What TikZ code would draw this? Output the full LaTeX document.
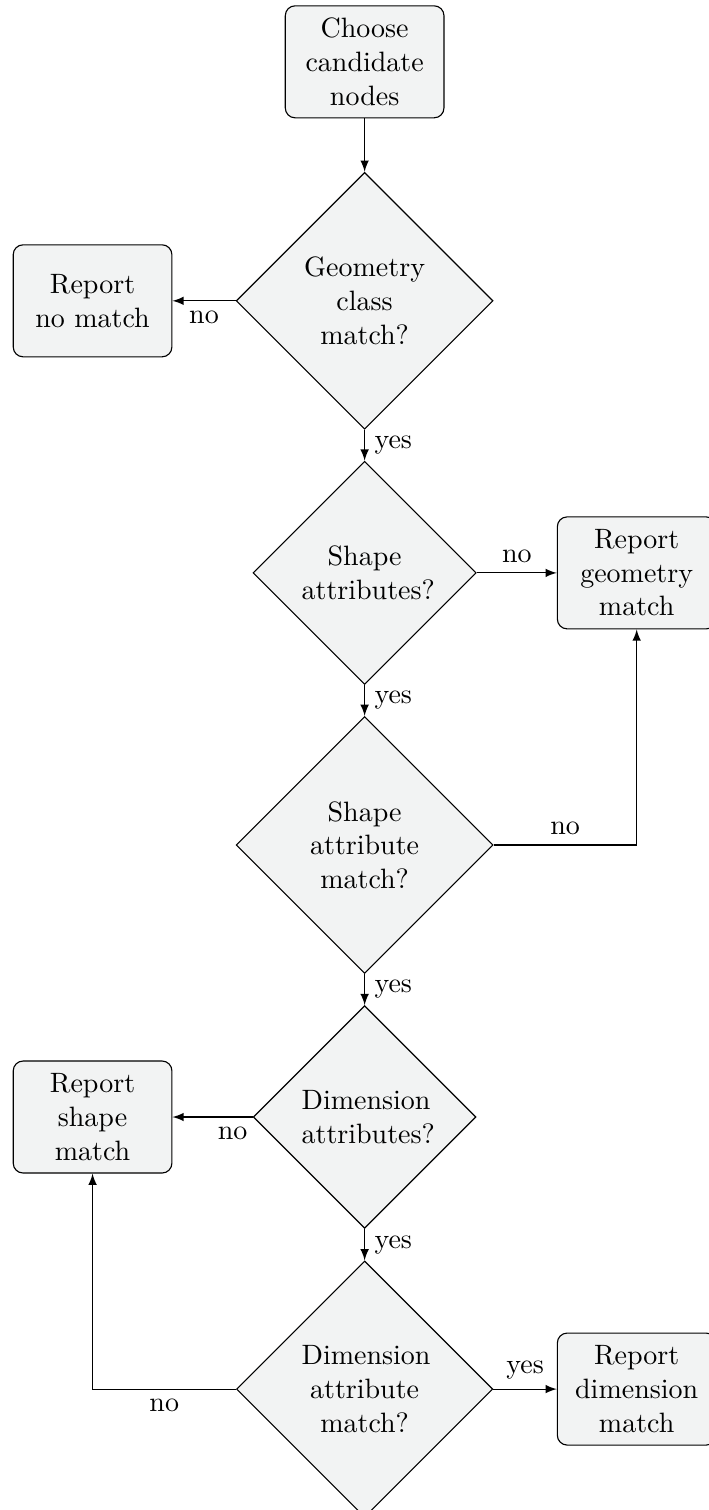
\documentclass[tikz,border=0pt]{standalone}
\usepackage{amsmath}
\usepackage{tikz}
\usetikzlibrary{shapes.geometric}

\definecolor{boxfill}{RGB}{242,243,243}

\begin{document}
\begin{tikzpicture}[
    block/.style={rectangle, draw, fill=boxfill, text width=5em, align=center, rounded corners=3.5pt, minimum height=4em},
    decision/.style={diamond, draw, fill=boxfill, text width=4.5em, align=center, inner sep=3.9pt},
    line/.style={draw, -latex}]
            \useasboundingbox (-4.577,0.776) rectangle (4.311,-18.178);
            \node (start) at (0,0) [block] {Choose\\ candidate\\ nodes};
            \node (geoclass) at (0,-3) [decision] {Geometry\\ class\\ match?};
            \node (nomatch) at (-3.415,-3) [block] {Report\\ no match};
            \node (shapeattr) at (0,-6.415) [decision] {Shape\\ \mbox{attributes?}};
            \node (geommatch) at (3.415,-6.415) [block] {Report\\ geometry\\ match};
            \node (shapematch?) at (0,-9.83) [decision] {Shape\\ attribute\\ match?};
            \node (dimattr) at (0,-13.245) [decision] {Dimension\\ \mbox{attributes?}};
            \node (shapematch) at (-3.415,-13.245) [block] {Report\\ shape\\ match};
            \node (dimmatch?) at (0,-16.66) [decision] {Dimension\\ attribute\\ match?};
            \node (dimmatch) at (3.415,-16.66) [block] {Report\\ dimension\\ match};
            \draw [line] (start) -- (geoclass);
            \draw [line] (geoclass) -- node [below] {no} (nomatch);
            \draw [line] (geoclass) -- node [right] {yes} (shapeattr);
            \draw [line] (shapeattr) -- node [above] {no} (geommatch);
            \draw [line] (shapeattr) -- node [right] {yes} (shapematch?);
            \draw [line] (shapematch?) -| node [above, pos=.25] {no} (geommatch);
            \draw [line] (shapematch?) -- node [right] {yes} (dimattr);
            \draw [line] (dimattr) -- node [below, pos=.25] {no} (shapematch);
            \draw [line] (dimattr) -- node [right] {yes} (dimmatch?);
            \draw [line] (dimmatch?) -- node [above] {yes} (dimmatch);
            \draw [line] (dimmatch?) -| node [below, pos=.25] {no} (shapematch);
        \end{tikzpicture}
\end{document}
